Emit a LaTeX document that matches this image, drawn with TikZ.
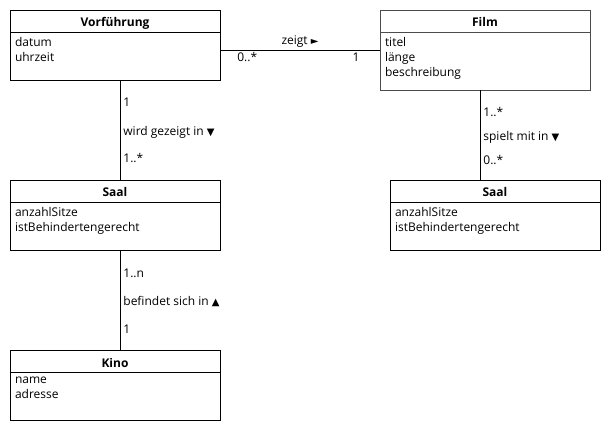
\documentclass[tikz,border=0pt]{standalone}
\usepackage{fontspec}
\setmainfont{Open Sans}
\newfontfamily\symfont{DejaVu Sans}
\newcommand{\richtung}[1]{{\symfont\fontsize{10}{12}\selectfont#1}}
\usetikzlibrary{positioning}

\begin{document}
\begin{tikzpicture}[
          x=1pt, y=-1pt,
          font=\fontsize{12}{15}\selectfont,
          kopf/.style={draw=black, minimum width=210pt, minimum height=22pt,
                       text height=12pt, text depth=0pt,
                       inner sep=0pt, outer sep=0pt, font=\fontsize{12}{15}\selectfont\bfseries},
          attr/.style={draw=black, align=left, inner xsep=5pt, inner ysep=5pt,
                       outer sep=0pt, anchor=north},
          ass/.style={draw=black, line width=0.8pt},
          lab/.style={anchor=west, inner sep=3pt}
        ]
        \useasboundingbox (0,0) rectangle (610,430);
        % Klassen
        \node[kopf, anchor=north west] (vorf) at (10,10) {Vorführung};
        \node[attr, below=0pt of vorf] (vorfA) {\parbox[t][38pt][t]{200pt}{datum\\uhrzeit}};
        \node[kopf, anchor=north west, draw=black!70] (film) at (380,10) {Film};
        \node[attr, below=0pt of film, draw=black!70] (filmA) {\parbox[t][48pt][t]{200pt}{titel\\länge\\beschreibung}};
        \node[kopf, anchor=north west] (saalL) at (10,180) {Saal};
        \node[attr, below=0pt of saalL] (saalLA) {\parbox[t][38pt][t]{200pt}{anzahlSitze\\istBehindertengerecht}};
        \node[kopf, anchor=north west] (saalR) at (390,180) {Saal};
        \node[attr, below=0pt of saalR] (saalRA) {\parbox[t][38pt][t]{200pt}{anzahlSitze\\istBehindertengerecht}};
        \node[kopf, anchor=north west] (kino) at (10,350) {Kino};
        \node[attr, below=0pt of kino] (kinoA) {\parbox[t][38pt][t]{200pt}{name\\adresse}};
        % Assoziationen
        \draw[ass] ([yshift=-18pt]vorfA.north east) -- ([yshift=-18pt]filmA.north west)
          node[midway, above=-1pt] (zeigt) {zeigt \richtung{►}}
          node[pos=0.17, below=-1pt] (m1) {0..*}
          node[pos=0.85, below=-1pt] (m2) {1};
        \draw[ass] ([xshift=5pt]vorfA.south) -- ([xshift=5pt]saalL.north)
          node[lab, pos=0.22] (m3) {1}
          node[lab, pos=0.52] (wird) {wird gezeigt in \richtung{▼}}
          node[lab, pos=0.78] (m4) {1..*};
        \draw[ass] ([xshift=-5pt]filmA.south) -- ([xshift=-5pt]filmA.south |- saalR.north)
          node[lab, pos=0.25] (m5) {1..*}
          node[lab, pos=0.53] (spielt) {spielt mit in \richtung{▼}}
          node[lab, pos=0.78] (m6) {0..*};
        \draw[ass] ([xshift=5pt]saalLA.south) -- ([xshift=5pt]kino.north)
          node[lab, pos=0.23] (m7) {1..n}
          node[lab, pos=0.52] (befindet) {befindet sich in \richtung{▲}}
          node[lab, pos=0.79] (m8) {1};
      \end{tikzpicture}
\end{document}
